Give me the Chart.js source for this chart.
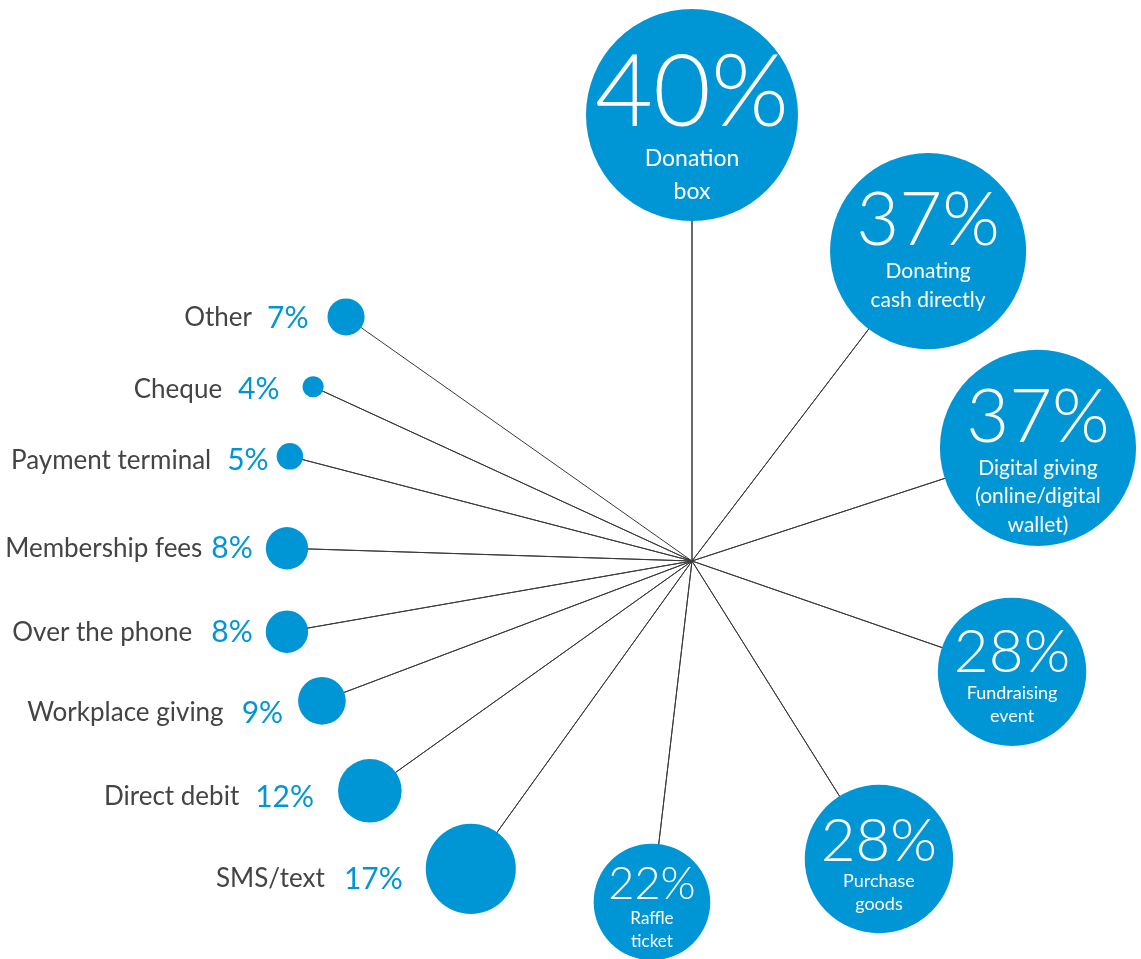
<!DOCTYPE html>
<html>
<head>
<meta charset="utf-8">
<script src="https://cdn.jsdelivr.net/npm/chart.js@4/dist/chart.umd.min.js"></script>
<style>
html,body{margin:0;padding:0;background:#fff;}
#wrap{width:1141px;height:959px;position:relative;}
</style>
</head>
<body>
<div id="wrap"><canvas id="c" width="1141" height="959"></canvas></div>
<script>
// ---- data ----
const categories = [
  "Donation box", "Donating cash directly", "Digital giving (online/digital wallet)",
  "Fundraising event", "Purchase goods", "Raffle ticket", "SMS/text", "Direct debit",
  "Workplace giving", "Over the phone", "Membership fees", "Payment terminal", "Cheque", "Other"
];
const labelLines = [
  ["Donation", "box"], ["Donating", "cash directly"], ["Digital giving", "(online/digital", "wallet)"],
  ["Fundraising", "event"], ["Purchase", "goods"], ["Raffle", "ticket"], ["SMS/text"], ["Direct debit"],
  ["Workplace giving"], ["Over the phone"], ["Membership fees"], ["Payment terminal"], ["Cheque"], ["Other"]
];
const values = [40, 37, 37, 28, 28, 22, 17, 12, 9, 8, 8, 5, 4, 7];

// ---- layout (radial placement, not data) ----
const spokeAngle  = [90, 52.7, 18.1, -19.1, -57.9, -96.7, 234.3, 215.5, 200.7, 189.9, 178.2, 165.4, 155.3, 144.8];
const spokeLength = [446, 389.6, 364, 338.7, 351.8, 343.3, 379.1, 395.7, 395.6, 411.2, 405.2, 415.5, 417, 423.4];
const HUB_X = 692, HUB_Y = 561, W = 1141, H = 959, R_PER_UNIT = 2.65;
// inside text layout (first six bubbles)
const pctSize = [100, 74, 74, 60, 60, 45];
const pctDy   = [-25, -33, -32, -21, -19, -19];
const labSize = [23, 21, 21, 18, 18, 17];
const labDy   = [44, 20, 20, 21, 22, 17];
const labLH   = [33, 29, 28.5, 23, 23, 23];
// outside text layout (remaining bubbles)
const outGap  = {6: 23, 7: 24, 8: 15, 9: 13, 10: 13, 11: 8, 12: 23, 13: 19};
const outDy   = {6: 9, 7: 5, 8: 11, 9: 0, 10: -1, 11: 3, 12: 2, 13: 0};
const nameGap = {6: 19, 7: 16, 8: 18, 9: 19, 10: 9, 11: 16, 12: 16, 13: 15};

const BLUE = '#0096d6', GREY = '#444444', FONT = 'Lato, "Open Sans", sans-serif';

const pts = values.map((v, i) => {
  const a = spokeAngle[i] * Math.PI / 180;
  return { x: spokeLength[i] * Math.cos(a), y: spokeLength[i] * Math.sin(a), r: v * R_PER_UNIT };
});
const spokes = [];
pts.forEach(p => { spokes.push({x: 0, y: 0}); spokes.push({x: p.x, y: p.y}); });

const textPlugin = {
  id: 'bubbleText',
  afterDatasetsDraw(chart) {
    const ctx = chart.ctx;
    const meta = chart.getDatasetMeta(0);
    ctx.save();
    meta.data.forEach((el, i) => {
      const cx = el.x, cy = el.y, r = el.options.radius;
      if (i < 6) {
        ctx.fillStyle = '#ffffff';
        ctx.textAlign = 'center';
        ctx.textBaseline = 'alphabetic';
        ctx.font = '300 ' + pctSize[i] + 'px ' + FONT;
        ctx.fillText(values[i] + '%', cx, cy + pctDy[i] + 0.358 * pctSize[i]);
        ctx.font = '400 ' + labSize[i] + 'px ' + FONT;
        ctx.textBaseline = 'middle';
        labelLines[i].forEach((ln, k) => {
          ctx.fillText(ln, cx, cy + labDy[i] + k * labLH[i]);
        });
      } else {
        const mid = cy + outDy[i];
        const right = cx - r - outGap[i];
        ctx.textAlign = 'right';
        ctx.textBaseline = 'alphabetic';
        ctx.font = '400 30px ' + FONT;
        ctx.fillStyle = BLUE;
        const pct = values[i] + '%';
        ctx.fillText(pct, right, mid + 0.358 * 30);
        const pw = ctx.measureText(pct).width;
        ctx.font = '400 26px ' + FONT;
        ctx.fillStyle = GREY;
        ctx.fillText(labelLines[i][0], right - pw - nameGap[i], mid + 0.358 * 26);
      }
    });
    ctx.restore();
  }
};

new Chart(document.getElementById('c'), {
  type: 'bubble',
  data: {
    labels: categories,
    datasets: [
      { type: 'bubble', data: pts, backgroundColor: BLUE, borderWidth: 0, hoverBorderWidth: 0, order: 0, clip: false },
      { type: 'line', data: spokes, borderColor: '#3a3a3a', borderWidth: 1, pointRadius: 0, tension: 0, fill: false, order: 1, clip: false }
    ]
  },
  options: {
    responsive: false,
    animation: false,
    events: [],
    layout: { padding: 0, autoPadding: false },
    plugins: { legend: { display: false }, tooltip: { enabled: false } },
    scales: {
      x: { type: 'linear', display: false, min: -HUB_X, max: W - HUB_X },
      y: { type: 'linear', display: false, min: HUB_Y - H, max: HUB_Y }
    }
  },
  plugins: [textPlugin]
});
</script>
</body>
</html>
